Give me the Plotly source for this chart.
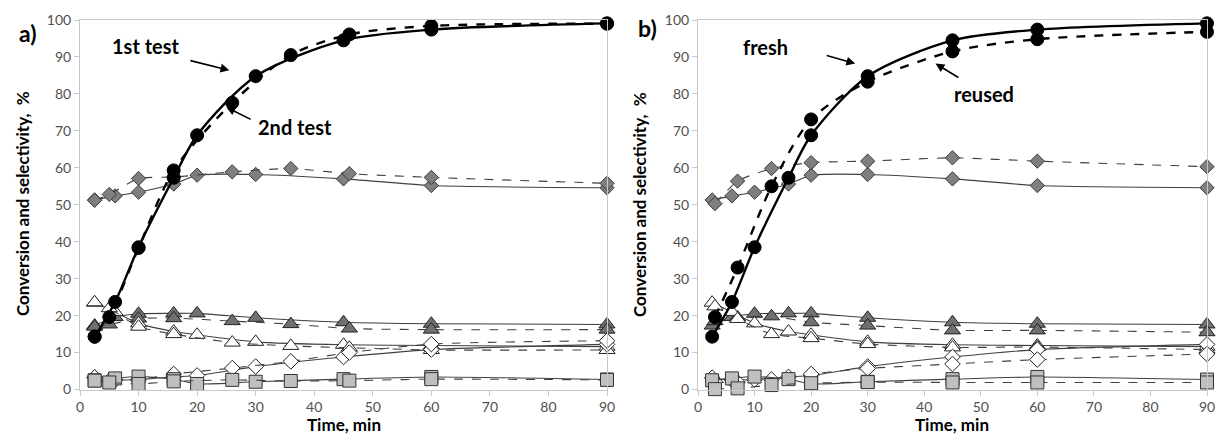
import plotly.graph_objects as go

# ---------------- data ----------------
# fresh / 1st test (solid lines)
t_fresh = [2.5, 6, 10, 16, 20, 30, 45, 60, 90]
conv_fresh = [14.3, 23.7, 38.5, 57.3, 68.8, 84.8, 94.5, 97.4, 99.1]
dia_gray_fresh = [51.3, 52.4, 53.4, 55.6, 58.0, 58.2, 57.0, 55.2, 54.6]
tri_dark_fresh = [17.3, 19.6, 20.5, 20.6, 20.6, 19.4, 18.2, 17.8, 17.6]
tri_white_fresh = [23.5, 21.0, 17.9, 15.7, 14.8, 12.9, 12.1, 11.9, 11.6]
dia_white_fresh = [3.2, 2.6, 2.7, 3.4, 3.8, 6.2, 8.8, 10.8, 12.2]
sq_fresh = [2.5, 3.0, 3.5, 2.8, 1.5, 2.1, 2.8, 3.4, 2.7]

# 2nd test (dashed lines, panel a)
t_test2 = [2.5, 5, 10, 16, 26, 36, 46, 60, 90]
conv_test2 = [14.3, 19.6, 38.3, 59.3, 77.6, 90.5, 96.1, 98.4, 99.0]
dia_gray_test2 = [51.2, 52.8, 57.1, 57.5, 58.9, 59.8, 58.4, 57.4, 55.8]
tri_dark_test2 = [17.0, 17.6, 19.2, 19.3, 18.5, 17.7, 16.5, 16.2, 16.2]
tri_white_test2 = [23.6, 22.0, 17.0, 15.0, 12.7, 11.8, 11.3, 10.7, 10.7]
dia_white_test2 = [3.3, 2.4, 2.7, 4.2, 5.8, 7.6, 10.0, 12.3, 13.2]
sq_test2 = [2.4, 1.9, 1.5, 2.2, 2.6, 2.3, 2.4, 2.8, 2.6]

# reused (dashed lines, panel b)
t_reused = [3, 7, 13, 20, 30, 45, 60, 90]
conv_reused = [19.6, 33.0, 55.0, 73.1, 83.3, 91.5, 94.8, 96.8]
dia_gray_reused = [50.3, 56.4, 59.8, 61.4, 61.8, 62.7, 61.8, 60.3]
tri_dark_reused = [18.5, 19.5, 19.8, 18.2, 17.3, 16.0, 16.0, 15.5]
tri_white_reused = [22.5, 19.1, 15.0, 13.9, 12.3, 11.4, 11.5, 10.8]
dia_white_reused = [2.0, 2.0, 2.7, 4.2, 5.7, 6.9, 8.1, 9.6]
sq_reused = [0.1, 0.3, 1.2, 1.7, 2.0, 1.9, 1.9, 1.9]

x_ticks = [0, 10, 20, 30, 40, 50, 60, 70, 80, 90]
y_ticks = [0, 10, 20, 30, 40, 50, 60, 70, 80, 90, 100]

# ---------------- styles ----------------
STY = {
    "dia_gray": dict(symbol="diamond", size=11, color="#7f7f7f", line=dict(color="#3a3a3a", width=1)),
    "tri_dark": dict(symbol="triangle-up", size=14, color="#707070", line=dict(color="#222222", width=1)),
    "tri_white": dict(symbol="triangle-up", size=14, color="white", line=dict(color="#222222", width=1)),
    "dia_white": dict(symbol="diamond", size=12, color="white", line=dict(color="#222222", width=1)),
    "sq": dict(symbol="square", size=13, color="#bfbfbf", line=dict(color="#333333", width=1)),
    "conv": dict(symbol="circle", size=13, color="black", line=dict(color="black", width=1)),
}

fig = go.Figure()


def add(x, y, key, dash, ax):
    xa, ya = ("x", "y") if ax == 1 else ("x2", "y2")
    if key == "conv":
        ln = dict(color="black", width=2.4, dash="dash" if dash else "solid", shape="spline", smoothing=0.8)
    else:
        ln = dict(color="#404040", width=1.1, dash="dash" if dash else "solid", shape="spline", smoothing=0.6)
    fig.add_trace(go.Scatter(x=x, y=y, mode="lines+markers", marker=STY[key], line=ln,
                             xaxis=xa, yaxis=ya, showlegend=False, cliponaxis=False, hoverinfo="skip"))


panel_a = [(t_fresh, False, [dia_gray_fresh, tri_dark_fresh, tri_white_fresh, dia_white_fresh, sq_fresh, conv_fresh]),
           (t_test2, True, [dia_gray_test2, tri_dark_test2, tri_white_test2, dia_white_test2, sq_test2, conv_test2])]
panel_b = [(t_fresh, False, [dia_gray_fresh, tri_dark_fresh, tri_white_fresh, dia_white_fresh, sq_fresh, conv_fresh]),
           (t_reused, True, [dia_gray_reused, tri_dark_reused, tri_white_reused, dia_white_reused, sq_reused, conv_reused])]
keys = ["dia_gray", "tri_dark", "tri_white", "dia_white", "sq", "conv"]

for ax, panel in [(1, panel_a), (2, panel_b)]:
    # selectivity series first, conversion on top
    for k_i, key in enumerate(keys):
        for tt, dash, series in panel:
            add(tt, series[k_i], key, dash, ax)

FONT = "Lato, 'Open Sans', sans-serif"
axis_common = dict(range=[0, 90], tickvals=x_ticks, showgrid=False, zeroline=False,
                   showline=True, linecolor="#c8c8c8", linewidth=1, mirror=True,
                   ticks="outside", ticklen=5, tickcolor="#c8c8c8",
                   tickfont=dict(family=FONT, size=14, color="#505050"))
yaxis_common = dict(range=[0, 100], tickvals=y_ticks, showgrid=False, zeroline=False,
                    showline=True, linecolor="#c8c8c8", linewidth=1, mirror=True,
                    ticks="outside", ticklen=5, tickcolor="#c8c8c8",
                    tickfont=dict(family=FONT, size=14, color="#505050"))

ydom = [1 - 389.5 / 435, 1 - 20 / 435]
fig.update_layout(
    width=1216, height=435, margin=dict(l=0, r=0, t=0, b=0, autoexpand=False),
    paper_bgcolor="white", plot_bgcolor="white",
    xaxis=dict(domain=[80 / 1216, 607 / 1216], anchor="y", **axis_common),
    yaxis=dict(domain=ydom, anchor="x", **yaxis_common),
    xaxis2=dict(domain=[698 / 1216, 1207 / 1216], anchor="y2", **axis_common),
    yaxis2=dict(domain=ydom, anchor="x2", **yaxis_common),
)

bold = dict(family=FONT, size=17, color="black")
C = dict(xanchor="center", yanchor="middle", showarrow=False)
ann = []
# axis titles
for xc in [22 / 1216, 639 / 1216]:
    ann.append(dict(x=xc, y=1 - 204 / 435, xref="paper", yref="paper",
                    text="<b>Conversion and selectivity,  %</b>", textangle=-90, font=bold, **C))
for xc in [(80 + 607) / 2 / 1216, (698 + 1207) / 2 / 1216]:
    ann.append(dict(x=xc, y=1 - 424 / 435, xref="paper", yref="paper", text="<b>Time, min</b>",
                    font=dict(family=FONT, size=17, color="black"), **C))
# panel labels
ann.append(dict(x=28 / 1216, y=1 - 33 / 435, xref="paper", yref="paper", text="<b>a)</b>",
                font=dict(family=FONT, size=23, color="black"), **C))
ann.append(dict(x=647 / 1216, y=1 - 28 / 435, xref="paper", yref="paper", text="<b>b)</b>",
                font=dict(family=FONT, size=23, color="black"), **C))
# curve labels
lab = dict(family=FONT, size=20, color="black")
ann.append(dict(x=11.3, y=93, xref="x", yref="y", text="<b>1st test</b>", font=lab, **C))
ann.append(dict(x=36.7, y=71, xref="x", yref="y", text="<b>2nd test</b>", font=lab, **C))
ann.append(dict(x=12, y=92.7, xref="x2", yref="y2", text="<b>fresh</b>", font=lab, **C))
ann.append(dict(x=50.5, y=80, xref="x2", yref="y2", text="<b>reused</b>", font=lab, **C))
# arrows
for (xa, ya, x0, y0, x1, y1) in [("x", "y", 18.6, 89.1, 25.5, 86.4),
                                 ("x", "y", 29.4, 72.9, 25.0, 76.4),
                                 ("x2", "y2", 22.5, 90.5, 27.8, 88.2),
                                 ("x2", "y2", 46.3, 84.2, 42.0, 88.2)]:
    ann.append(dict(x=x1, y=y1, ax=x0, ay=y0, xref=xa, yref=ya, axref=xa, ayref=ya, text="",
                    showarrow=True, arrowhead=2, arrowsize=1.1, arrowwidth=1.6, arrowcolor="black"))
fig.update_layout(annotations=ann)

fig.write_html("out.html", config={"displayModeBar": False},
               post_script="document.body.style.margin='0px';document.body.style.overflow='hidden';")
